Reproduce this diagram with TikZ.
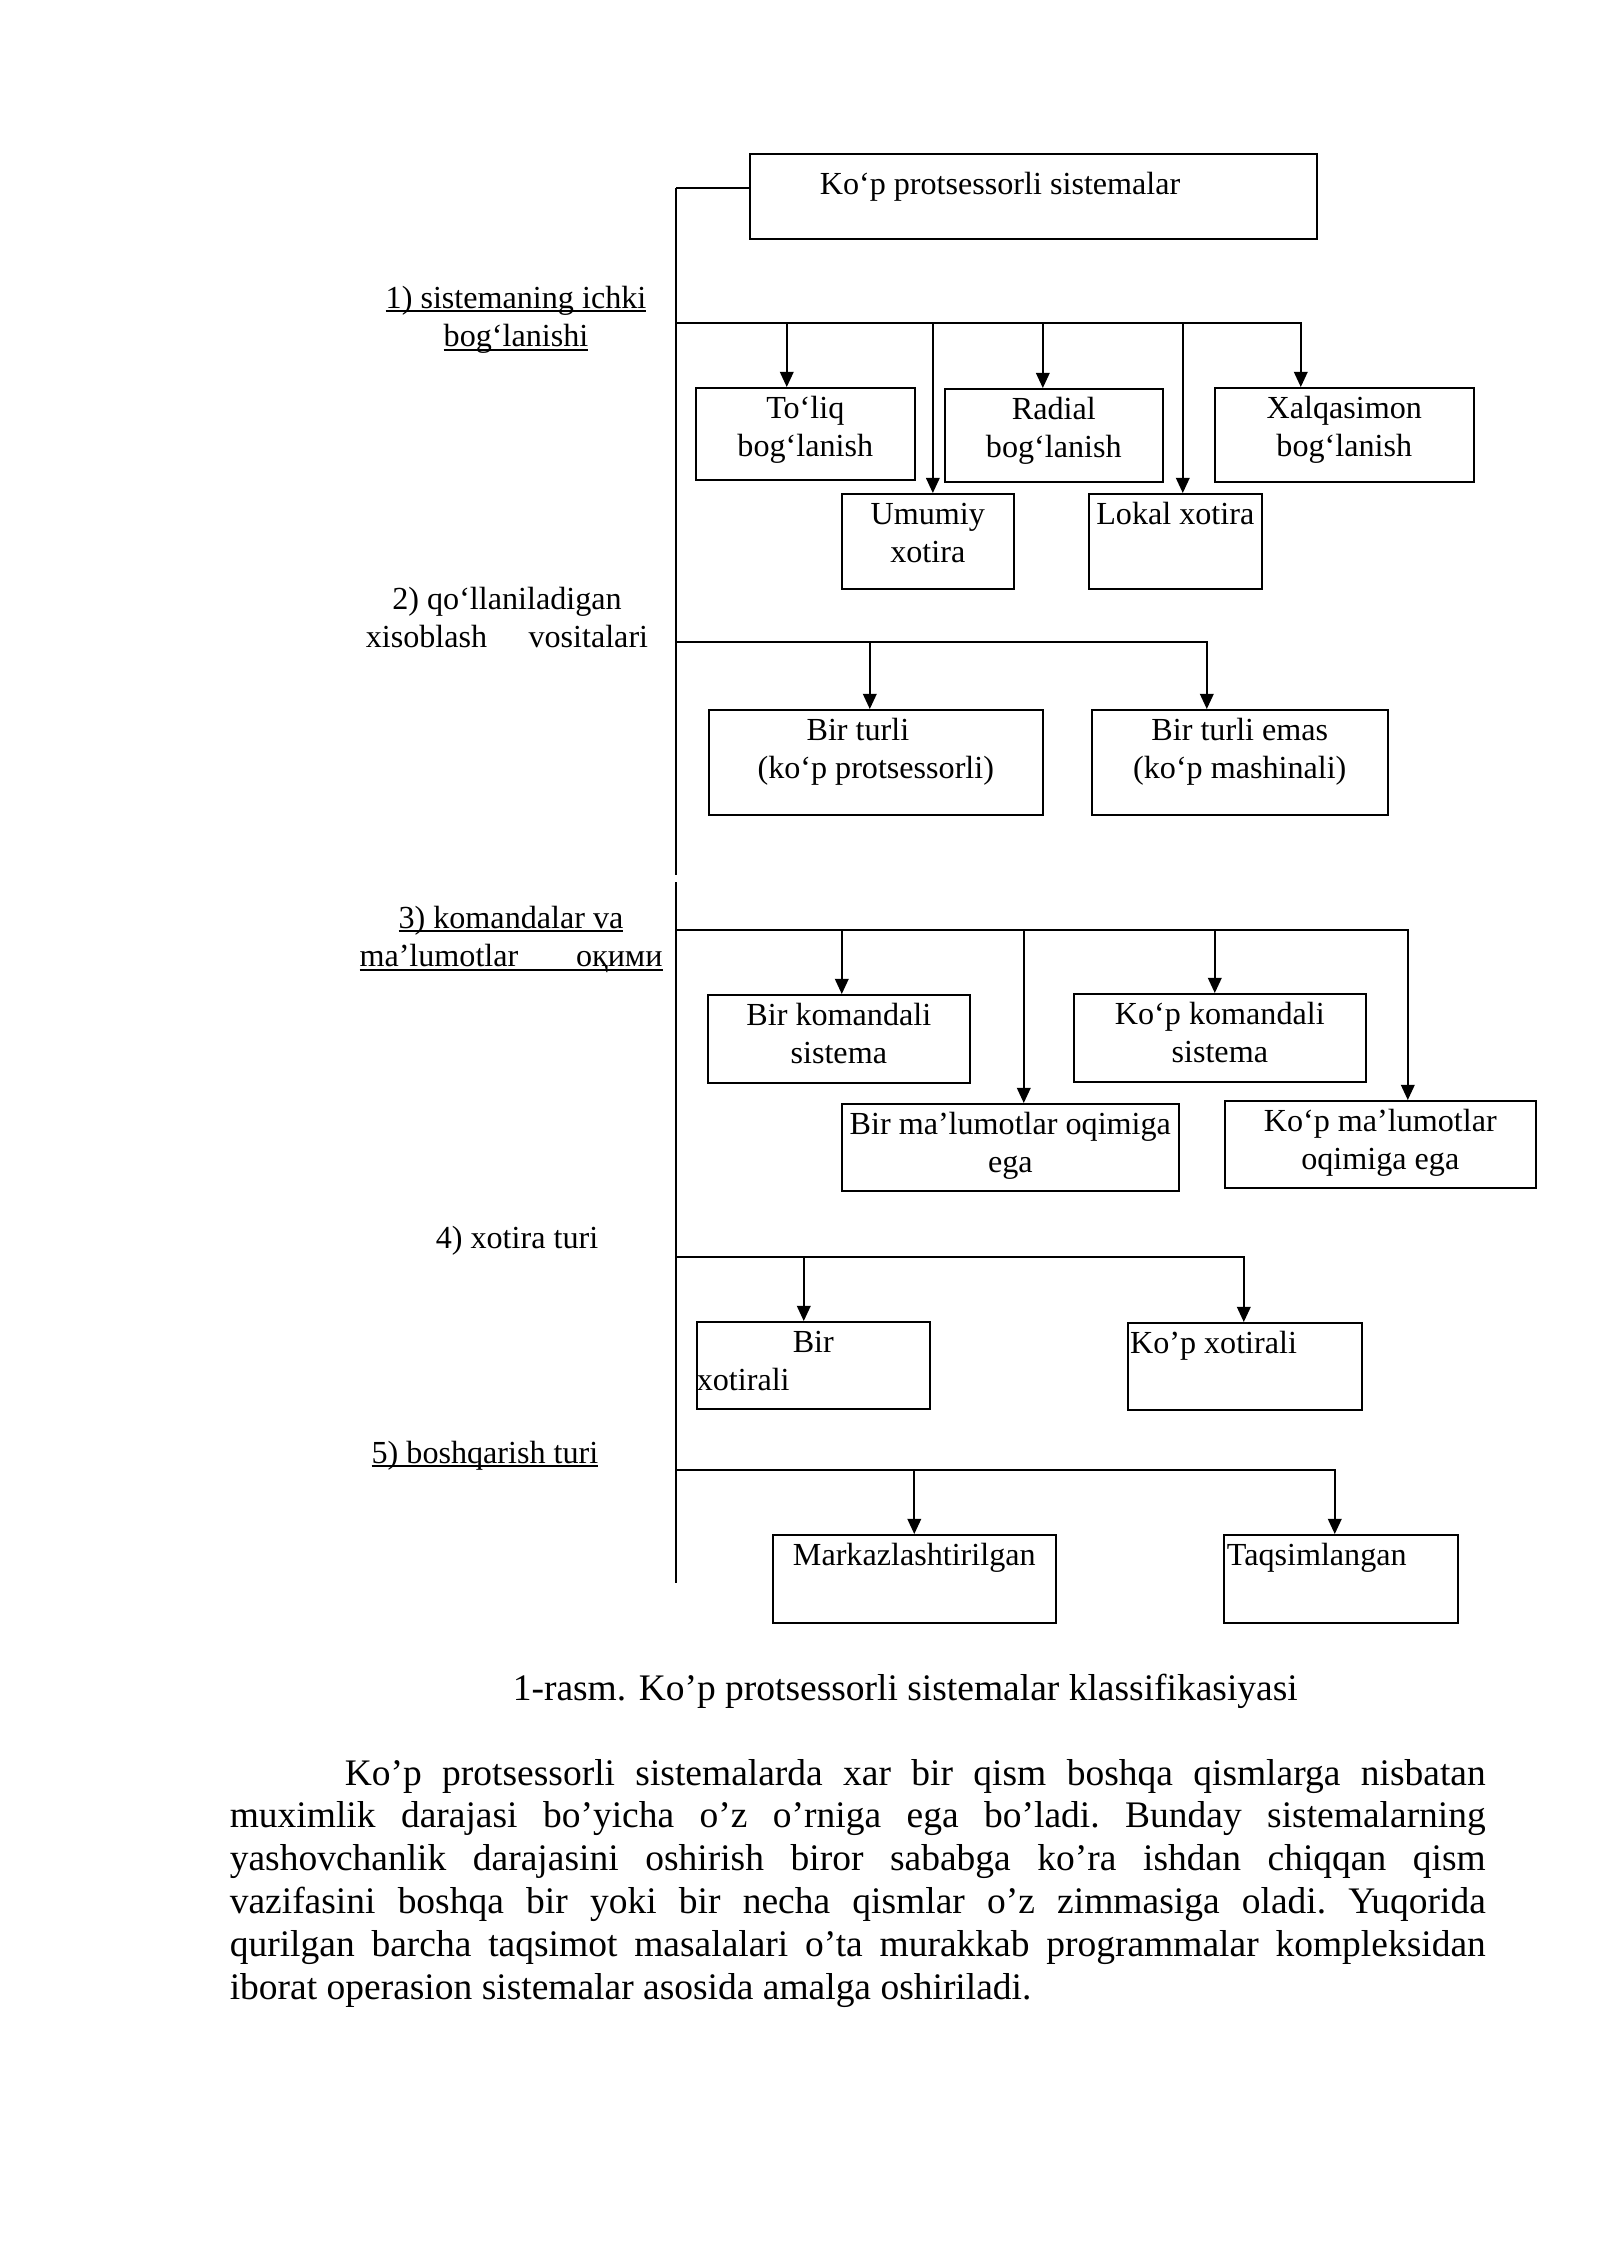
\documentclass[tikz,border=0pt]{standalone}
\usepackage{fontspec}
\setmainfont{Liberation Serif}
\usetikzlibrary{arrows.meta}
\newcommand{\inbox}[3]{\parbox[t][#2][t]{#1}{\centering\rule{0pt}{11.4pt}#3}}
\newcommand{\undl}[1]{\leavevmode\setbox0\hbox{#1}\rlap{\rule[-1.5pt]{\wd0}{0.6pt}}\box0}
\tikzset{
  cbox/.style={draw, line width=0.6pt, inner sep=0pt, anchor=north west, font=\fontsize{12}{14.2}\selectfont},
  lbl/.style={anchor=base, inner sep=0pt, font=\fontsize{12}{14.5}\selectfont},
  arr/.style={-{Triangle[length=2mm,width=1.8mm]}},
  txt/.style={anchor=base west, inner sep=0pt, font=\fontsize{14}{16}\selectfont}
}
\begin{document}
\begin{tikzpicture}[x=0.13125mm, y=-0.13125mm, line width=0.6pt]
    \useasboundingbox (0,0) rectangle (1600,2262);

    % insert nodes
    \node[cbox] (top) at (749,153) {\inbox{74.42mm}{11.16mm}{\raggedright\rule{0pt}{15.3pt}\hspace*{9.19mm}Ko‘p protsessorli sistemalar}};

    \node[lbl] (crit1) at (516,308) {\parbox[t]{45mm}{\centering\undl{1) sistemaning ichki}\\\undl{bog‘lanishi}}};
    \node[lbl] (crit2) at (507,609) {\parbox[t]{45mm}{\centering 2) qo‘llaniladigan\\\makebox[37.05mm][s]{xisoblash vositalari}}};
    \node[lbl] (crit3) at (511,928) {\parbox[t]{45mm}{\centering\undl{3) komandalar va}\\\undl{\makebox[39.77mm][s]{ma’lumotlar оқими}}}};
    \node[lbl] (crit4) at (517,1248) {4) xotira turi};
    \node[lbl] (crit5) at (485,1463) {\undl{5) boshqarish turi}};

    \node[cbox] (toliq) at (695,387) {\inbox{28.74mm}{12.08mm}{To‘liq\\bog‘lanish}};
    \node[cbox] (radial) at (944,388) {\inbox{28.61mm}{12.21mm}{Radial\\bog‘lanish}};
    \node[cbox] (xalq) at (1214,387) {\inbox{33.99mm}{12.34mm}{Xalqasimon\\bog‘lanish}};
    \node[cbox] (umumiy) at (841,493) {\inbox{22.58mm}{12.47mm}{Umumiy\\xotira}};
    \node[cbox] (lokal) at (1088,493) {\inbox{22.71mm}{12.47mm}{Lokal xotira}};

    \node[cbox] (birturli) at (708,709) {\inbox{43.84mm}{13.78mm}{Bir turli\rule{4.7mm}{0pt}\\(ko‘p protsessorli)}};
    \node[cbox] (turliemas) at (1091,709) {\inbox{38.85mm}{13.78mm}{Bir turli emas\\(ko‘p mashinali)}};

    \node[cbox] (birkom) at (707,994) {\inbox{34.39mm}{11.55mm}{Bir komandali\\sistema}};
    \node[cbox] (kopkom) at (1073,993) {\inbox{38.33mm}{11.55mm}{Ko‘p komandali\\sistema}};
    \node[cbox] (birmal) at (841,1103) {\inbox{44.23mm}{11.42mm}{Bir ma’lumotlar oqimiga\\ega}};
    \node[cbox] (kopmal) at (1224,1100) {\inbox{40.82mm}{11.42mm}{Ko‘p ma’lumotlar\\oqimiga ega}};

    \node[cbox] (birxot) at (696,1321) {\inbox{30.58mm}{11.42mm}{Bir\\\makebox[\linewidth][l]{xotirali}}};
    \node[cbox] (kopxot) at (1127,1322) {\inbox{30.71mm}{11.42mm}{\raggedright\hspace*{0.3mm}Ko’p xotirali}};

    \node[cbox] (markaz) at (772,1534) {\inbox{37.14mm}{11.55mm}{Markazlashtirilgan}};
    \node[cbox] (taqsim) at (1223,1534) {\inbox{30.71mm}{11.55mm}{\raggedright\hspace*{0.4mm}Taqsimlangan}};

    \node[txt] (caption) at (512,1700) {1-rasm. Ko’p protsessorli sistemalar klassifikasiyasi};
    \node[txt] (para) at (229,1785) {\parbox[t]{164.85mm}{\frenchspacing\hspace*{15.1mm}Ko’p protsessorli sistemalarda xar bir qism boshqa qismlarga nisbatan\linebreak
    muximlik darajasi bo’yicha o’z o’rniga ega bo’ladi. Bunday sistemalarning\linebreak
    yashovchanlik darajasini oshirish biror sababga ko’ra ishdan chiqqan qism\linebreak
    vazifasini boshqa bir yoki bir necha qismlar o’z zimmasiga oladi. Yuqorida\linebreak
    qurilgan barcha taqsimot masalalari o’ta murakkab programmalar kompleksidan\linebreak
    iborat operasion sistemalar asosida amalga oshiriladi.}};

    % trunk points
    \coordinate (trunk) at (676,188);
    \coordinate (br1) at (676,323);
    \coordinate (br2) at (676,642);
    \coordinate (gapa) at (676,875);
    \coordinate (gapb) at (676,882);
    \coordinate (br3) at (676,930);
    \coordinate (br4) at (676,1257);
    \coordinate (br5) at (676,1470);
    \coordinate (trunkend) at (676,1583);

    % arrow entry points
    \coordinate (tolin) at ([xshift=-2.43mm]toliq.north);
    \coordinate (umin) at ([xshift=0.66mm]umumiy.north);
    \coordinate (radin) at ([xshift=-1.44mm]radial.north);
    \coordinate (lokin) at ([xshift=0.98mm]lokal.north);
    \coordinate (xalin) at ([xshift=-5.71mm]xalq.north);
    \coordinate (bturin) at ([xshift=-0.79mm]birturli.north);
    \coordinate (temin) at ([xshift=-4.33mm]turliemas.north);
    \coordinate (bkomin) at ([xshift=0.39mm]birkom.north);
    \coordinate (bmalin) at ([xshift=1.77mm]birmal.north);
    \coordinate (kkomin) at ([xshift=-0.66mm]kopkom.north);
    \coordinate (kmalin) at ([xshift=3.61mm]kopmal.north);
    \coordinate (bxotin) at ([xshift=-1.25mm]birxot.north);
    \coordinate (kxotin) at ([xshift=-0.13mm]kopxot.north);
    \coordinate (markin) at (markaz.north);
    \coordinate (taqin) at ([xshift=-0.79mm]taqsim.north);

    % insert links
    \draw (trunk) -- (gapa);
    \draw (gapb) -- (trunkend);
    \draw (trunk) -- (trunk -| top.west);

    \draw[arr] (br1) -- (br1 -| xalin) -- (xalin);
    \draw[arr] (br1 -| tolin) -- (tolin);
    \draw[arr] (br1 -| umin) -- (umin);
    \draw[arr] (br1 -| radin) -- (radin);
    \draw[arr] (br1 -| lokin) -- (lokin);

    \draw[arr] (br2) -- (br2 -| temin) -- (temin);
    \draw[arr] (br2 -| bturin) -- (bturin);

    \draw[arr] (br3) -- (br3 -| kmalin) -- (kmalin);
    \draw[arr] (br3 -| bkomin) -- (bkomin);
    \draw[arr] (br3 -| bmalin) -- (bmalin);
    \draw[arr] (br3 -| kkomin) -- (kkomin);

    \draw[arr] (br4) -- (br4 -| kxotin) -- (kxotin);
    \draw[arr] (br4 -| bxotin) -- (bxotin);

    \draw[arr] (br5) -- (br5 -| taqin) -- (taqin);
    \draw[arr] (br5 -| markin) -- (markin);
\end{tikzpicture}
\end{document}
